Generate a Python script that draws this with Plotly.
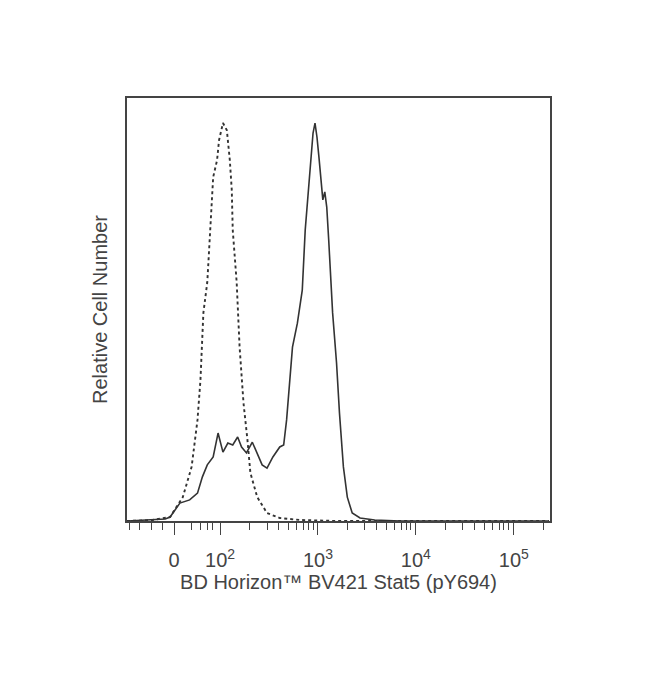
import plotly.graph_objects as go

# x in display units (log10 decades; "0" sits at 1.53)
dashed_x = [1.05, 1.30, 1.49, 1.62, 1.71, 1.77, 1.80, 1.83, 1.87, 1.90, 1.93, 1.97, 1.99, 2.03,
            2.07, 2.10, 2.12, 2.13, 2.17, 2.20, 2.24, 2.28, 2.31, 2.38, 2.48, 2.61, 2.82, 3.2, 5.36]
dashed_y = [0, 0.2, 1.0, 6.0, 13.6, 25.4, 35.4, 52.3, 60.0, 74.9, 86.4, 90.7, 95.7, 100,
            98.2, 90.7, 83.2, 73.1, 60.0, 43.7, 29.6, 20.4, 12.1, 6.0, 2.0, 0.75, 0.25, 0, 0]

solid_x = [1.05, 1.29, 1.44, 1.49, 1.59, 1.69, 1.77, 1.82, 1.87, 1.93, 1.98, 2.03, 2.08, 2.13,
           2.18, 2.22, 2.27, 2.33, 2.38, 2.43, 2.48, 2.54, 2.61, 2.65, 2.68, 2.71, 2.74, 2.79,
           2.84, 2.87, 2.90, 2.93, 2.95, 2.97, 2.99, 3.01, 3.04, 3.05, 3.07, 3.09, 3.11, 3.13,
           3.15, 3.19, 3.22, 3.26, 3.30, 3.35, 3.43, 3.58, 3.84, 5.36]
solid_y = [0, 0.25, 0.5, 1.0, 4.5, 5.3, 7.0, 11.1, 14.1, 16.1, 22.1, 17.3, 19.6, 19.1,
           21.1, 18.6, 17.1, 19.8, 17.1, 14.1, 13.3, 16.1, 18.6, 19.1, 25.4, 35.4, 43.7, 49.7,
           58.0, 73.1, 83.2, 91.5, 97.5, 100, 96.5, 91.5, 83.9, 80.7, 82.7, 78.9, 70.6, 59.8,
           52.3, 39.7, 27.1, 13.6, 6.0, 2.0, 0.75, 0.25, 0, 0]

major_vals = [1.53, 2, 3, 4, 5]
major_text = ["0", "10<sup>2</sup>", "10<sup>3</sup>", "10<sup>4</sup>", "10<sup>5</sup>"]
minor_vals = [1.08, 1.18, 1.30, 1.41, 1.71, 1.80, 1.87, 1.92,
              2.30, 2.48, 2.60, 2.70, 2.78, 2.85, 2.90, 2.95,
              3.30, 3.48, 3.60, 3.70, 3.78, 3.85, 3.90, 3.95,
              4.30, 4.48, 4.60, 4.70, 4.78, 4.85, 4.90, 4.95, 5.30]

x_title = "BD Horizon™ BV421 Stat5 (pY694)"
y_title = "Relative Cell Number"

fig = go.Figure()
fig.add_trace(go.Scatter(x=dashed_x, y=dashed_y, mode="lines",
                         line=dict(color="#333333", width=1.9, dash="dot"), showlegend=False))
fig.add_trace(go.Scatter(x=solid_x, y=solid_y, mode="lines",
                         line=dict(color="#333333", width=1.6), showlegend=False))

fig.update_layout(
    width=650, height=685,
    margin=dict(l=119, r=108, t=90, b=172),
    paper_bgcolor="white", plot_bgcolor="white",
    font=dict(family="Liberation Sans, Arial, sans-serif", size=20, color="#444444"),
    xaxis=dict(range=[1.05, 5.37], showgrid=False, zeroline=False,
               showline=True, linecolor="#444444", linewidth=2, mirror=True,
               tickmode="array", tickvals=major_vals, ticktext=major_text,
               ticks="outside", ticklen=12, tickwidth=1.4, tickcolor="#444444",
               ticklabelstandoff=8,
               minor=dict(tickmode="array", tickvals=minor_vals, ticks="outside",
                          ticklen=7, tickwidth=1.3, tickcolor="#444444"),
               title=dict(text=x_title, standoff=0, font=dict(size=20))),
    yaxis=dict(range=[0, 106.3], showgrid=False, zeroline=False,
               showline=True, linecolor="#444444", linewidth=2, mirror=True,
               showticklabels=False, ticks="",
               title=dict(text=y_title, standoff=12, font=dict(size=20))),
)

fig.write_html("out.html")
